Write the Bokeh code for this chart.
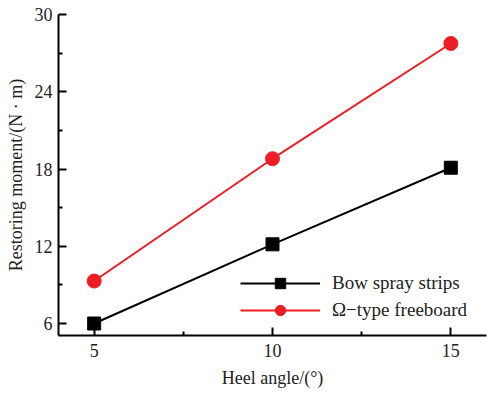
from bokeh.plotting import figure
from bokeh.models import Range1d, FixedTicker, Legend, LegendItem
from bokeh.embed import file_html
from bokeh.resources import INLINE

heel_angle = [5, 10, 15]
bow_spray = [6.0, 12.15, 18.1]
omega_type = [9.3, 18.8, 27.75]
x_ticks = [5, 10, 15]
y_ticks = [6, 12, 18, 24, 30]

FONT = "Liberation Serif"
RED = "#ee1c25"

p = figure(width=487, height=397, output_backend="svg", toolbar_location=None,
           x_range=Range1d(4, 16), y_range=Range1d(5.07, 30),
           min_border_left=58, min_border_right=1, min_border_top=14, min_border_bottom=62)
p.outline_line_color = None
p.grid.visible = False
p.background_fill_color = "white"

l1 = p.line(heel_angle, bow_spray, line_color="black", line_width=2)
m1 = p.scatter(heel_angle, bow_spray, marker="square", size=13, fill_color="black", line_color="black")
l2 = p.line(heel_angle, omega_type, line_color=RED, line_width=2)
m2 = p.scatter(heel_angle, omega_type, marker="circle", size=14, fill_color=RED, line_color=RED)

for ax in (p.xaxis[0], p.yaxis[0]):
    ax.axis_line_width = 2
    ax.axis_line_color = "black"
    ax.major_tick_line_width = 2
    ax.minor_tick_line_width = 2
    ax.major_tick_in = 8
    ax.major_tick_out = 0
    ax.minor_tick_in = 4
    ax.minor_tick_out = 0
    ax.major_label_text_font = FONT
    ax.major_label_text_font_size = "18px"
    ax.major_label_text_color = "#222222"
    ax.axis_label_text_font = FONT
    ax.axis_label_text_font_size = "18px"
    ax.axis_label_text_font_style = "normal"
    ax.axis_label_text_color = "#222222"

p.xaxis.ticker = FixedTicker(ticks=x_ticks, minor_ticks=[7.5, 12.5])
p.yaxis.ticker = FixedTicker(ticks=y_ticks, minor_ticks=[9, 15, 21, 27])
p.xaxis.axis_label = "Heel angle/(°)"
p.yaxis.axis_label = "Restoring moment/(N · m)"
p.xaxis.major_label_standoff = 8
p.yaxis.major_label_standoff = 6
p.xaxis.axis_label_standoff = 8
p.yaxis.axis_label_standoff = 6

legend = Legend(items=[
    LegendItem(label="Bow spray strips", renderers=[l1, m1]),
    LegendItem(label="Ω−type freeboard", renderers=[l2, m2]),
], location=(182, 12))
legend.border_line_color = None
legend.background_fill_alpha = 0
legend.label_text_font = FONT
legend.label_text_font_size = "19px"
legend.label_text_color = "#222222"
legend.glyph_width = 80
legend.glyph_height = 26
legend.spacing = 1
legend.label_standoff = 12
p.add_layout(legend, "center")

open("out.html", "w").write(file_html(p, INLINE))
